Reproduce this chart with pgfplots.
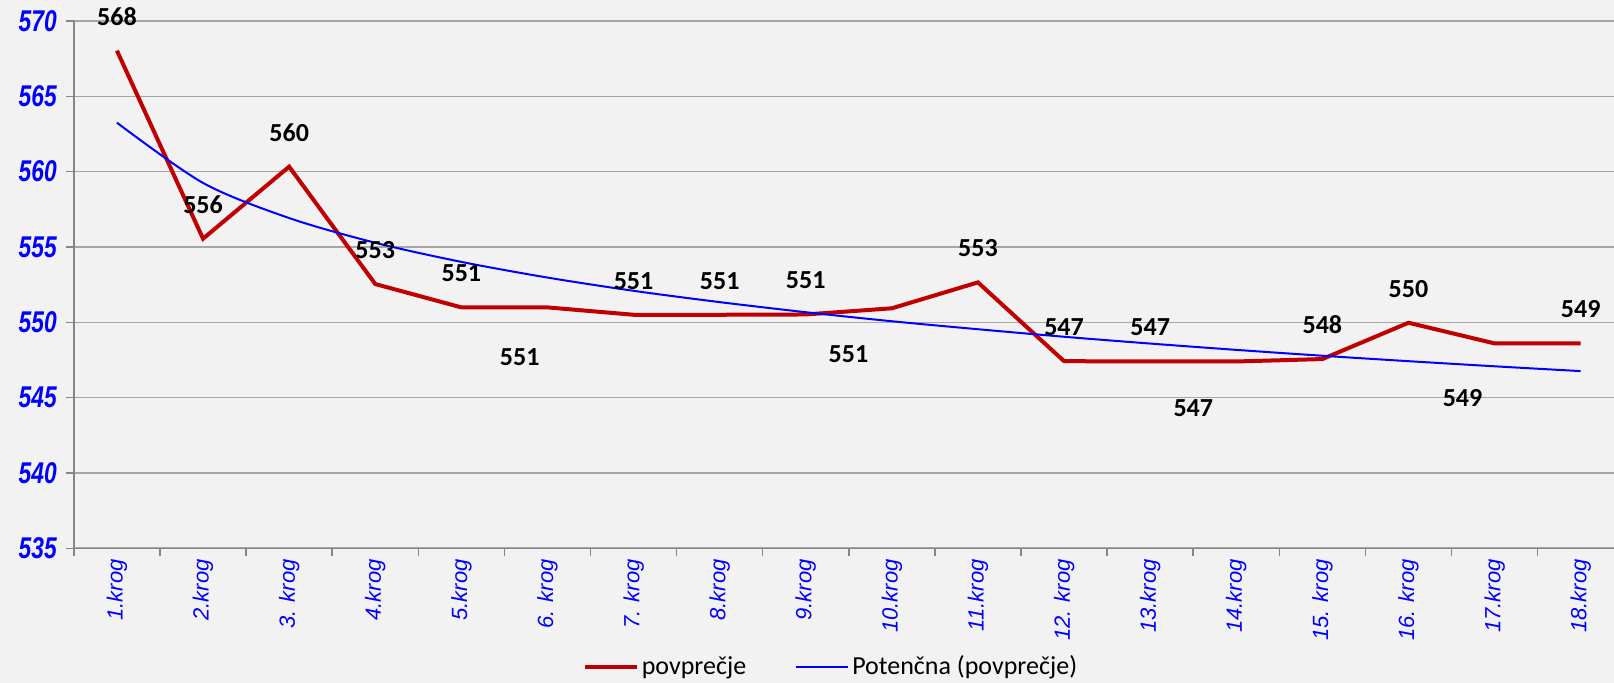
\documentclass[border=0pt]{standalone}
\usepackage{pgfplots}
\pgfplotsset{compat=1.18}
\usepackage{pgfplotstable}
\usepackage{fontspec}
\setmainfont{Liberation Sans}
\newfontfamily\carlito{Carlito}
\definecolor{bg}{HTML}{F2F2F2}
\definecolor{gridc}{HTML}{A6A6A6}
\definecolor{axc}{HTML}{868686}
\definecolor{redl}{HTML}{C00000}
\definecolor{bluel}{HTML}{0000FF}

\pgfplotstableread{
x y dx dy lab
1 568.03 0 17 568
2 555.55 0 17 556
3 560.33 0 17 560
4 552.54 0 17 553
5 550.99 0 17 551
6 550.99 -13.9 -24.7 551
7 550.50 0 17 551
8 550.50 0 17 551
9 550.52 0 17 551
10 550.93 -21.7 -22.9 551
11 552.65 0 17 553
12 547.42 0 17 547
13 547.40 0 17 547
14 547.40 -21.5 -23.2 547
15 547.56 0 17 548
16 549.97 0 17 550
17 548.60 -16 -27.2 549
18 548.60 0 17 549
}\avg

\pgfplotstableread{
x y
1 563.25
2 559.25
3 556.92
4 555.28
5 554.01
6 552.97
7 552.09
8 551.34
9 550.67
10 550.07
11 549.54
12 549.04
13 548.59
14 548.17
15 547.78
16 547.42
17 547.08
18 546.76
}\trend

\begin{document}
\begin{tikzpicture}
\useasboundingbox (-36.95pt,-67.35pt) rectangle (770.05pt,274.15pt);
\fill[bg] (-36.95pt,-67.35pt) rectangle (770.05pt,274.15pt);
\begin{axis}[
  at={(0pt,0pt)}, anchor=south west,
  scale only axis, width=770.05pt, height=263.65pt,
  xmin=0.5, xmax=18.387, ymin=535, ymax=570,
  clip=false,
  axis x line*=bottom, axis y line*=left,
  axis line style={draw=axc, line width=0.75pt},
  ytick={535,540,...,570},
  yticklabels={\scalebox{0.76}[1]{535},\scalebox{0.76}[1]{540},\scalebox{0.76}[1]{545},\scalebox{0.76}[1]{550},\scalebox{0.76}[1]{555},\scalebox{0.76}[1]{560},\scalebox{0.76}[1]{565},\scalebox{0.76}[1]{570}},
  yticklabel style={font=\fontsize{15}{17}\selectfont\bfseries\itshape, text=bluel, anchor=east, inner sep=0pt, xshift=-4.4pt},
  ymajorgrids, grid style={draw=gridc, line width=0.8pt},
  tick align=outside, major tick length=4pt,
  tick style={draw=axc, line width=0.75pt},
  xtick={0.5,1.5,...,17.5},
  xticklabels={},
  extra x ticks={1,2,...,18},
  extra x tick labels={1.krog,2.krog,3. krog,4.krog,5.krog,6. krog,7. krog,8.krog,9.krog,10.krog,11.krog,12. krog,13.krog,14.krog,15. krog,16. krog,17.krog,18.krog},
  extra x tick style={major tick length=0pt, xticklabel style={font=\fontsize{11}{13}\selectfont\itshape, text=bluel, yshift=-5.3pt, rotate=90, anchor=east, inner sep=0pt}},
  legend style={at={(axis description cs:0.3302,-0.2251)}, anchor=west, draw=none, fill=none, inner sep=0pt,
    font=\carlito\fontsize{13}{15}\selectfont, nodes={inner sep=1.5pt},
    /tikz/every even column/.append style={column sep=23pt}},
  legend columns=2,
  legend image code/.code={\draw[#1] (0pt,0pt) -- (26pt,0pt);},
]
\addplot[redl, line width=2pt,
  nodes near coords, point meta=explicit symbolic,
  visualization depends on={\thisrow{dx} \as \dxv},
  visualization depends on={\thisrow{dy} \as \dyv},
  every node near coord/.append style={font=\carlito\fontsize{13}{15}\selectfont\bfseries, text=black, anchor=center, xshift=\dxv pt, yshift=\dyv pt, inner sep=0pt}]
  table[x=x, y=y, meta=lab] {\avg};
\addlegendentry{povprečje}
\addplot[bluel, line width=1pt, smooth] table[x=x, y=y] {\trend};
\addlegendentry{Potenčna (povprečje)}
\end{axis}
\end{tikzpicture}
\end{document}
